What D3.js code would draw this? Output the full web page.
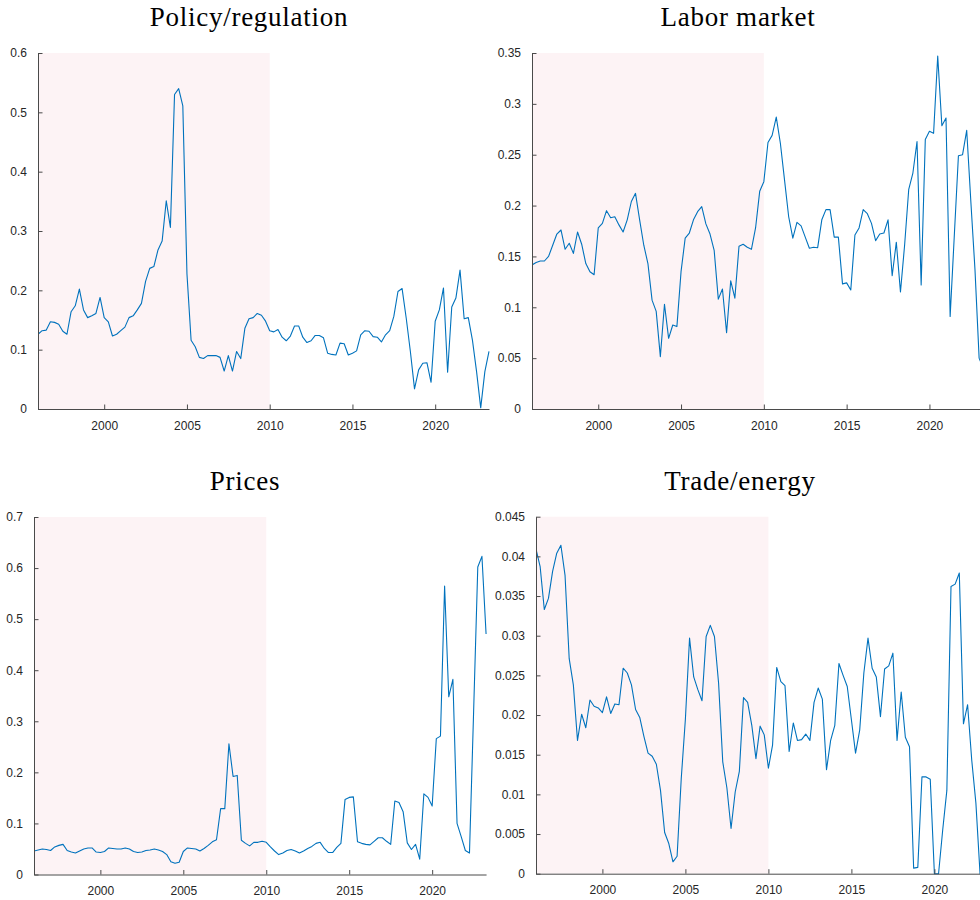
<!DOCTYPE html>
<html>
<head>
<meta charset="utf-8">
<script src="https://cdn.jsdelivr.net/npm/d3@7"></script>
<style>
  body { margin: 0; background: #fff; }
  svg { display: block; }
</style>
</head>
<body>
<svg id="chart" width="980" height="900"></svg>
<script>
// Quarterly index values, 1996Q1 onwards
const startYear = 1996;

const policyRegulation = [
  0.126, 0.132, 0.133, 0.147, 0.146, 0.143, 0.131, 0.126, 0.164, 0.174,
  0.202, 0.167, 0.154, 0.157, 0.161, 0.188, 0.154, 0.147, 0.123, 0.126,
  0.132, 0.138, 0.154, 0.157, 0.167, 0.178, 0.215, 0.237, 0.240, 0.268,
  0.283, 0.351, 0.306, 0.530, 0.540, 0.511, 0.228, 0.116, 0.105, 0.087,
  0.085, 0.090, 0.090, 0.090, 0.087, 0.064, 0.090, 0.064, 0.097, 0.085,
  0.136, 0.152, 0.154, 0.161, 0.158, 0.148, 0.132, 0.130, 0.134, 0.121,
  0.115, 0.123, 0.140, 0.140, 0.121, 0.112, 0.115, 0.124, 0.124, 0.120,
  0.094, 0.092, 0.091, 0.111, 0.110, 0.091, 0.094, 0.098, 0.125, 0.132,
  0.131, 0.122, 0.121, 0.113, 0.125, 0.132, 0.156, 0.198, 0.203, 0.153,
  0.097, 0.034, 0.066, 0.077, 0.078, 0.045, 0.148, 0.167, 0.204, 0.062,
  0.172, 0.187, 0.234, 0.152, 0.154, 0.116, 0.063, 0.002, 0.063, 0.097
];

const laborMarket = [
  0.1416, 0.144, 0.1455, 0.1455, 0.150, 0.161, 0.172, 0.176, 0.157, 0.163,
  0.153, 0.174, 0.162, 0.143, 0.135, 0.132, 0.178, 0.1825, 0.195, 0.188,
  0.189, 0.181, 0.174, 0.186, 0.204, 0.212, 0.186, 0.161, 0.143, 0.107,
  0.096, 0.0515, 0.103, 0.0695, 0.0826, 0.081, 0.135, 0.168, 0.173, 0.186,
  0.194, 0.199, 0.182, 0.172, 0.156, 0.108, 0.118, 0.075, 0.126, 0.109,
  0.160, 0.162, 0.159, 0.157, 0.178, 0.214, 0.2235, 0.262, 0.269, 0.287,
  0.261, 0.225, 0.189, 0.168, 0.1835, 0.180, 0.169, 0.158, 0.159, 0.1586,
  0.186, 0.196, 0.196, 0.169, 0.169, 0.123, 0.124, 0.117, 0.171, 0.178,
  0.196, 0.192, 0.1825, 0.1655, 0.172, 0.173, 0.186, 0.131, 0.164, 0.115,
  0.161, 0.216, 0.232, 0.263, 0.122, 0.265, 0.273, 0.271, 0.347, 0.2785,
  0.286, 0.091, 0.170, 0.249, 0.250, 0.274, 0.204, 0.137, 0.050, 0.040
];

const prices = [
  0.046, 0.048, 0.050, 0.049, 0.047, 0.054, 0.057, 0.059, 0.047, 0.044,
  0.042, 0.046, 0.050, 0.052, 0.052, 0.044, 0.043, 0.045, 0.052, 0.051,
  0.050, 0.050, 0.052, 0.050, 0.045, 0.043, 0.044, 0.047, 0.048, 0.050,
  0.048, 0.045, 0.039, 0.025, 0.022, 0.024, 0.045, 0.052, 0.051, 0.050,
  0.046, 0.051, 0.057, 0.064, 0.068, 0.129, 0.129, 0.256, 0.192, 0.194,
  0.067, 0.061, 0.056, 0.063, 0.063, 0.065, 0.063, 0.054, 0.046, 0.039,
  0.042, 0.047, 0.049, 0.046, 0.042, 0.046, 0.051, 0.055, 0.061, 0.063,
  0.051, 0.043, 0.043, 0.053, 0.061, 0.147, 0.151, 0.152, 0.064, 0.061,
  0.059, 0.058, 0.065, 0.072, 0.072, 0.065, 0.059, 0.144, 0.141, 0.123,
  0.062, 0.049, 0.059, 0.030, 0.158, 0.151, 0.134, 0.266, 0.271, 0.565,
  0.348, 0.382, 0.100, 0.074, 0.047, 0.042, 0.320, 0.602, 0.623, 0.471
];

const tradeEnergy = [
  0.0409, 0.0387, 0.0333, 0.0347, 0.0381, 0.0404, 0.0414, 0.0376, 0.0271, 0.0238,
  0.0168, 0.0201, 0.0184, 0.0219, 0.0211, 0.0209, 0.0203, 0.0223, 0.0202, 0.0214,
  0.0213, 0.0259, 0.0253, 0.0238, 0.0207, 0.0197, 0.0173, 0.0152, 0.0148, 0.0138,
  0.0105, 0.0052, 0.0038, 0.0015, 0.0022, 0.0120, 0.0195, 0.0297, 0.0248, 0.0232,
  0.0218, 0.0299, 0.0313, 0.0299, 0.0240, 0.0141, 0.0108, 0.0057, 0.0103, 0.0129,
  0.0222, 0.0216, 0.0187, 0.0145, 0.0186, 0.0175, 0.0133, 0.0162, 0.0260, 0.0242,
  0.0237, 0.0154, 0.0190, 0.0168, 0.0169, 0.0176, 0.0168, 0.0216, 0.0234, 0.0220,
  0.0131, 0.0168, 0.0187, 0.0265, 0.0250, 0.0236, 0.0194, 0.0152, 0.0181, 0.0253,
  0.0297, 0.0259, 0.0248, 0.0198, 0.0258, 0.0262, 0.0278, 0.0168, 0.0229, 0.0172,
  0.0160, 0.0007, 0.0008, 0.0122, 0.0122, 0.0119, 0.0000, 0.0000, 0.0055, 0.0105,
  0.0362, 0.0365, 0.0379, 0.0189, 0.0213, 0.0143, 0.0089, 0.0000, 0.0000, 0.0000
];

// Shaded sub-period
const shadeStart = 1996;
const shadeEnd = 2010;

// Axis ticks and their labels
const xTicks = [2000, 2005, 2010, 2015, 2020];
const xTickLabels = ["2000", "2005", "2010", "2015", "2020"];

const yTicksPolicy = [0, 0.1, 0.2, 0.3, 0.4, 0.5, 0.6];
const yLabelsPolicy = ["0", "0.1", "0.2", "0.3", "0.4", "0.5", "0.6"];
const yTicksLabor = [0, 0.05, 0.1, 0.15, 0.2, 0.25, 0.3, 0.35];
const yLabelsLabor = ["0", "0.05", "0.1", "0.15", "0.2", "0.25", "0.3", "0.35"];
const yTicksPrices = [0, 0.1, 0.2, 0.3, 0.4, 0.5, 0.6, 0.7];
const yLabelsPrices = ["0", "0.1", "0.2", "0.3", "0.4", "0.5", "0.6", "0.7"];
const yTicksTrade = [0, 0.005, 0.01, 0.015, 0.02, 0.025, 0.03, 0.035, 0.04, 0.045];
const yLabelsTrade = ["0", "0.005", "0.01", "0.015", "0.02", "0.025", "0.03", "0.035", "0.04", "0.045"];

const titles = ["Policy/regulation", "Labor market", "Prices", "Trade/energy"];

// Panel layout (pixel boxes of each axes)
const panels = [
  { title: titles[0], values: policyRegulation, yMax: 0.6, yTicks: yTicksPolicy, yLabels: yLabelsPolicy,
    left: 38, pxPerYear: 16.55, top: 53, bottom: 409, titleX: 249, titleY: 26 },
  { title: titles[1], values: laborMarket, yMax: 0.35, yTicks: yTicksLabor, yLabels: yLabelsLabor,
    left: 532, pxPerYear: 16.56, top: 53, bottom: 409, titleX: 738, titleY: 26 },
  { title: titles[2], values: prices, yMax: 0.7, yTicks: yTicksPrices, yLabels: yLabelsPrices,
    left: 34, pxPerYear: 16.59, top: 517, bottom: 874.5, titleX: 245, titleY: 490 },
  { title: titles[3], values: tradeEnergy, yMax: 0.045, yTicks: yTicksTrade, yLabels: yLabelsTrade,
    left: 536, pxPerYear: 16.6, top: 516.7, bottom: 873.7, titleX: 740, titleY: 490 }
];

const lineColor = "#0072BD";
const shadeColor = "#FDF3F5";
const axisColor = "#4a4a4a";
const textColor = "#262626";
const tickLen = 4.5;

const svg = d3.select("#chart");
const defs = svg.append("defs");

panels.forEach((p, k) => {
  const n = p.values.length;
  const dates = p.values.map((_, i) => startYear + i / 4);
  const xEnd = dates[n - 1];
  const x = d3.scaleLinear()
    .domain([startYear, xEnd])
    .range([p.left, p.left + (xEnd - startYear) * p.pxPerYear]);
  const y = d3.scaleLinear().domain([0, p.yMax]).range([p.bottom, p.top]);

  const g = svg.append("g");

  defs.append("clipPath").attr("id", "clip" + k)
    .append("rect")
    .attr("x", x.range()[0]).attr("y", p.top - 2)
    .attr("width", x.range()[1] - x.range()[0] + 1)
    .attr("height", p.bottom - p.top + 4);

  // shaded period
  g.append("rect")
    .attr("x", x(shadeStart))
    .attr("y", y(p.yMax))
    .attr("width", x(shadeEnd) - x(shadeStart))
    .attr("height", y(0) - y(p.yMax))
    .attr("fill", shadeColor);

  // series line
  const line = d3.line()
    .x((d, i) => x(dates[i]))
    .y(d => y(d));
  g.append("path")
    .datum(p.values)
    .attr("clip-path", "url(#clip" + k + ")")
    .attr("fill", "none")
    .attr("stroke", lineColor)
    .attr("stroke-width", 1.1)
    .attr("stroke-linejoin", "round")
    .attr("d", line);

  // x axis (ticks point inward)
  const xAxis = d3.axisBottom(x)
    .tickValues(xTicks)
    .tickFormat((d, i) => xTickLabels[i])
    .tickSizeInner(-tickLen)
    .tickSizeOuter(0)
    .tickPadding(12);
  const gx = g.append("g")
    .attr("transform", `translate(0,${p.bottom})`)
    .call(xAxis);

  // y axis (ticks point inward)
  const yAxis = d3.axisLeft(y)
    .tickValues(p.yTicks)
    .tickFormat((d, i) => p.yLabels[i])
    .tickSizeInner(-tickLen)
    .tickSizeOuter(0)
    .tickPadding(11);
  const gy = g.append("g")
    .attr("transform", `translate(${p.left},0)`)
    .call(yAxis);

  [gx, gy].forEach(a => {
    a.select(".domain").attr("stroke", axisColor).attr("stroke-width", 1);
    a.selectAll(".tick line").attr("stroke", axisColor).attr("stroke-width", 1);
    a.selectAll(".tick text")
      .attr("fill", textColor)
      .style("font-family", "'Liberation Sans', Arial, Helvetica, sans-serif")
      .style("font-size", "12px");
  });

  // title
  svg.append("text")
    .attr("x", p.titleX)
    .attr("y", p.titleY)
    .attr("text-anchor", "middle")
    .attr("fill", "#000")
    .style("font-family", "'Liberation Serif', 'Times New Roman', serif")
    .style("font-size", "27px")
    .style("letter-spacing", "0.75px")
    .text(p.title);
});
</script>
</body>
</html>
